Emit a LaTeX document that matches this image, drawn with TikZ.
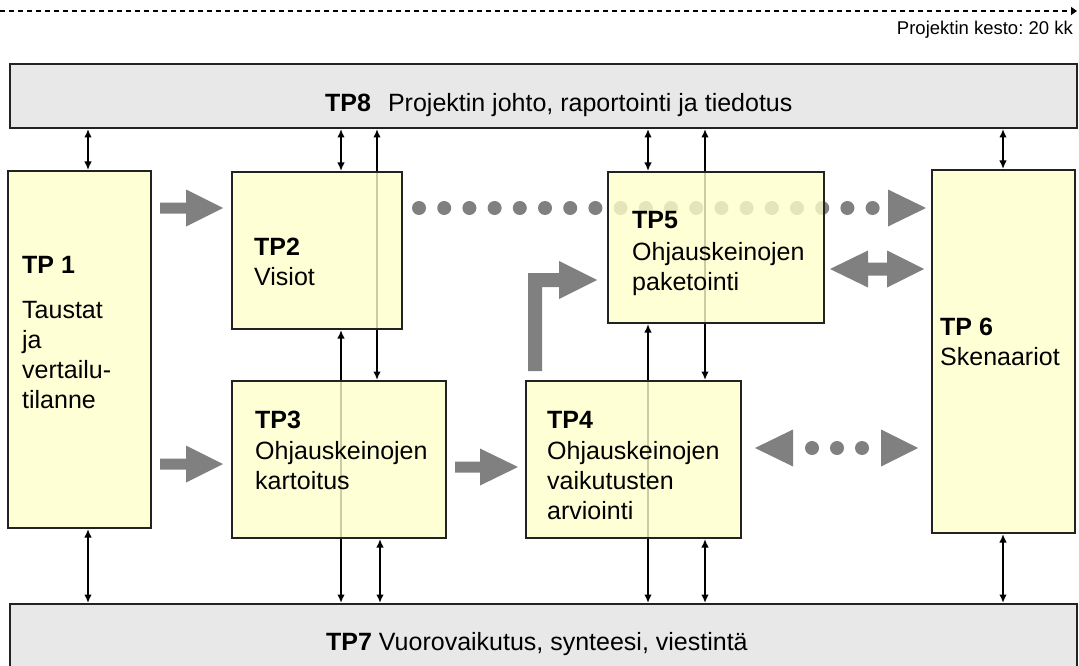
\documentclass[tikz,border=0pt]{standalone}
\usepackage{fontspec}
\setmainfont{Liberation Sans}
\usetikzlibrary{arrows.meta}
\definecolor{wpfill}{HTML}{FFFFCC}
\definecolor{bandfill}{HTML}{E8E8E8}
\definecolor{blockgray}{HTML}{808080}
\definecolor{edgecol}{HTML}{222222}
\pgfdeclarelayer{links}
\pgfsetlayers{links,main}
\frenchspacing

% right-pointing block arrow: tail x, head base x, tip x, middle y
\newcommand\rblock[4]{%
  \fill[blockgray] ({#1},{#4-5.5}) -- ({#2},{#4-5.5}) -- ({#2},{#4-18.5}) -- ({#3},{#4})
    -- ({#2},{#4+18.5}) -- ({#2},{#4+5.5}) -- ({#1},{#4+5.5}) -- cycle;}

\begin{document}
\begin{tikzpicture}[x=1pt,y=-1pt,
  wp/.style={draw=edgecol, line width=1.3pt, fill=wpfill, fill opacity=0.8,
    inner sep=0pt, outer sep=0pt, anchor=north west},
  band/.style={draw=edgecol, line width=1.3pt, fill=bandfill,
    inner sep=0pt, outer sep=0pt, anchor=north west},
  lbl/.style={font=\fontsize{25}{30}\selectfont, anchor=base west, inner sep=0pt},
  link/.style={line width=1.6pt, {Latex[length=8.5pt,width=7.5pt]}-{Latex[length=8.5pt,width=7.5pt]},
    shorten <=1pt, shorten >=1pt},
  timeline/.style={line width=1.3pt, dash pattern=on 5pt off 4pt, -{Triangle[length=6pt,width=8pt]}}
]
\useasboundingbox (0,0) rectangle (1079,666);
\clip (0,0) rectangle (1079,666);

% project duration line
\coordinate (tstart) at (0,11);
\coordinate (tend) at (1077,11);
\draw[timeline] (tstart) -- (tend);
\node[anchor=base east, inner sep=0pt, font=\fontsize{18.5}{22}\selectfont] (kesto) at (1073,35)
  {Projektin kesto: 20 kk};

% horizontal bands
\node[band, minimum width=1067pt, minimum height=64pt] (tp8) at (10,64) {};
\node[band, minimum width=1067pt, minimum height=70pt] (tp7) at (10,604) {};

% work package boxes
\node[wp, minimum width=143pt, minimum height=357pt] (tp1) at (8,171) {};
\node[wp, minimum width=170pt, minimum height=157pt] (tp2) at (232,172) {};
\node[wp, minimum width=214pt, minimum height=157pt] (tp3) at (232,381) {};
\node[wp, minimum width=215pt, minimum height=157pt] (tp4) at (526,381) {};
\node[wp, minimum width=216pt, minimum height=151pt] (tp5) at (608,172) {};
\node[wp, minimum width=143pt, minimum height=363pt] (tp6) at (932,170) {};

% labels
\node[lbl] (t8) at (325,112) {\textbf{TP8}\hspace{17pt}Projektin johto, raportointi ja tiedotus};
\node[lbl] (t7) at (326,650) {\textbf{TP7} Vuorovaikutus, synteesi, viestintä};

\node[lbl] (t1a) at (22,273) {\textbf{TP 1}};
\node[lbl] (t1b) at (22,318) {Taustat};
\node[lbl] (t1c) at (22,348) {ja};
\node[lbl] (t1d) at (22,378) {vertailu-};
\node[lbl] (t1e) at (22,408) {tilanne};

\node[lbl] (t2a) at (254,255) {\textbf{TP2}};
\node[lbl] (t2b) at (254,285) {Visiot};

\node[lbl] (t3a) at (255,428) {\textbf{TP3}};
\node[lbl] (t3b) at (255,459) {Ohjauskeinojen};
\node[lbl] (t3c) at (255,489) {kartoitus};

\node[lbl] (t4a) at (547,428) {\textbf{TP4}};
\node[lbl] (t4b) at (547,459) {Ohjauskeinojen};
\node[lbl] (t4c) at (547,489) {vaikutusten};
\node[lbl] (t4d) at (547,519) {arviointi};

\node[lbl] (t5a) at (632,228) {\textbf{TP5}};
\node[lbl] (t5b) at (632,260) {Ohjauskeinojen};
\node[lbl] (t5c) at (632,290) {paketointi};

\node[lbl] (t6a) at (940,335) {\textbf{TP 6}};
\node[lbl] (t6b) at (940,365) {Skenaariot};

% connectors, drawn beneath the translucent boxes
\coordinate (xa) at (88,0);
\coordinate (xb) at (341,0);
\coordinate (xc) at (377,0);
\coordinate (xd) at (380,0);
\coordinate (xe) at (648,0);
\coordinate (xf) at (705,0);
\coordinate (xg) at (1003,0);

\begin{pgfonlayer}{links}
  % to and from TP8
  \draw[link] (xa |- tp8.south) -- (xa |- tp1.north);
  \draw[link] (xb |- tp8.south) -- (xb |- tp2.north);
  \draw[link] (xc |- tp8.south) -- (xc |- tp3.north);
  \draw[link] (xe |- tp8.south) -- (xe |- tp5.north);
  \draw[link] (xf |- tp8.south) -- (xf |- tp4.north);
  \draw[link] (xg |- tp8.south) -- (xg |- tp6.north);
  % to and from TP7
  \draw[link] (xa |- tp1.south) -- (xa |- tp7.north);
  \draw[link] (xb |- tp2.south) -- (xb |- tp7.north);
  \draw[link] (xd |- tp3.south) -- (xd |- tp7.north);
  \draw[link] (xe |- tp5.south) -- (xe |- tp7.north);
  \draw[link] (xf |- tp4.south) -- (xf |- tp7.north);
  \draw[link] (xg |- tp6.south) -- (xg |- tp7.north);

  % block arrows
  \rblock{160}{186}{223}{208}
  \rblock{160}{186}{223}{464}
  \rblock{455}{480}{518}{467}

  % bent arrow from TP4 up and into TP5
  \fill[blockgray] (528,371) -- (528,273) -- (559,273) -- (559,261) -- (597,280)
    -- (559,299) -- (559,287) -- (542,287) -- (542,371) -- cycle;

  % double block arrow TP5 <-> TP6
  \fill[blockgray] (830,269) -- (868,250.5) -- (868,262.5) -- (887,262.5) -- (887,250.5)
    -- (924,269) -- (887,287.5) -- (887,275.5) -- (868,275.5) -- (868,287.5) -- cycle;

  % dotted arrow TP2 -> TP6
  \foreach \i in {0,...,18}
    \fill[blockgray] ({419+25.2*\i},208) circle[radius=7];
  \fill[blockgray] (888,189.5) -- (926,208) -- (888,226.5) -- cycle;

  % dotted double arrow TP4 <-> TP6
  \fill[blockgray] (755,448) -- (793,429.5) -- (793,466.5) -- cycle;
  \foreach \i in {0,1,2}
    \fill[blockgray] ({812+25*\i},448) circle[radius=7];
  \fill[blockgray] (881,429.5) -- (918,448) -- (881,466.5) -- cycle;
\end{pgfonlayer}
\end{tikzpicture}
\end{document}
